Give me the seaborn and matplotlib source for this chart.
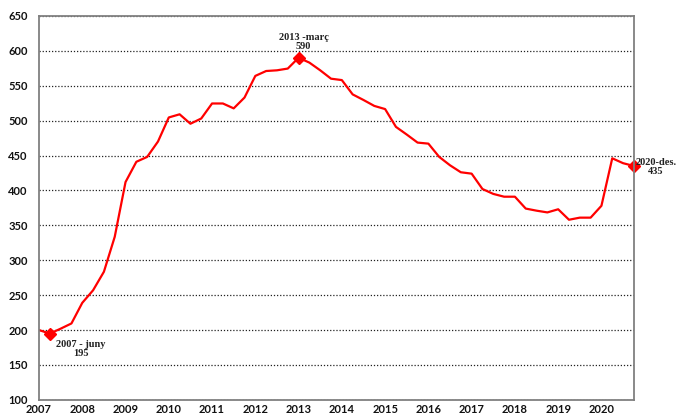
import numpy as np
import pandas as pd
import matplotlib
matplotlib.use('Agg')
import matplotlib.pyplot as plt
import seaborn as sns

# quarterly values (març, juny, set., des.)
years = list(range(2007, 2021))
values = [
    200, 195, 202, 209.5,
    239, 257, 283.5, 333.5,
    412, 441, 448, 470,
    504.5, 509, 495.5, 503,
    524.5, 524.5, 517.5, 533,
    564, 571, 572, 574.5,
    590, 583, 572, 560,
    558, 537.5, 529.5, 521,
    516.5, 491, 480, 468.5,
    467, 448, 436, 426,
    424, 402, 395, 391,
    391, 374, 371, 368.5,
    373, 358, 361, 361,
    378, 446, 439, 435,
]
# highlighted points: (quarter index, label)
highlights = [(1, '2007 - juny\n195'), (24, '2013 -març\n590'), (55, '2020-des.\n435')]
# text offsets in pixels for each highlight
offsets = [(31, -15), (5, 16), (22, -1)]

df = pd.DataFrame({'t': years[0] + np.arange(len(values)) / 4, 'value': values})

sns.set_style('white')
plt.rcParams['font.family'] = ['Lato', 'DejaVu Sans']

fig = plt.figure(figsize=(6.76, 4.17), dpi=100)
ax = fig.add_axes([0.0577, 0.041, 0.880, 0.921])

sns.lineplot(data=df, x='t', y='value', color='#ff0000', linewidth=1.6, ax=ax)

for (i, label), (dx, dy) in zip(highlights, offsets):
    ax.plot(df['t'][i], df['value'][i], marker='D', color='#ff0000', markersize=6, clip_on=False)
    ax.annotate(label, xy=(df['t'][i], df['value'][i]), xytext=(dx, dy),
                textcoords='offset pixels', ha='center', va='center',
                multialignment='center', linespacing=1.0,
                fontsize=7.5, fontweight='bold', family='Liberation Serif',
                color='#222222', annotation_clip=False)

ax.set_xlim(2007, 2020.75)
ax.set_ylim(100, 650)
ax.set_xticks(years)
ax.set_xticklabels([str(y) for y in years])
ax.set_yticks(range(100, 651, 50))
ax.yaxis.grid(True, linestyle=(0, (1, 1.5)), color='#222222', linewidth=0.9)
ax.xaxis.grid(False)
ax.set_xlabel('')
ax.set_ylabel('')
ax.tick_params(axis='both', length=0, labelsize=8, colors='#111111')
ax.tick_params(axis='y', pad=8)
ax.tick_params(axis='x', pad=3)
for lbl in ax.get_xticklabels() + ax.get_yticklabels():
    lbl.set_fontweight('bold')
for sp in ax.spines.values():
    sp.set_color('#808080')
    sp.set_linewidth(1.3)

fig.savefig('out.png', dpi=100)
